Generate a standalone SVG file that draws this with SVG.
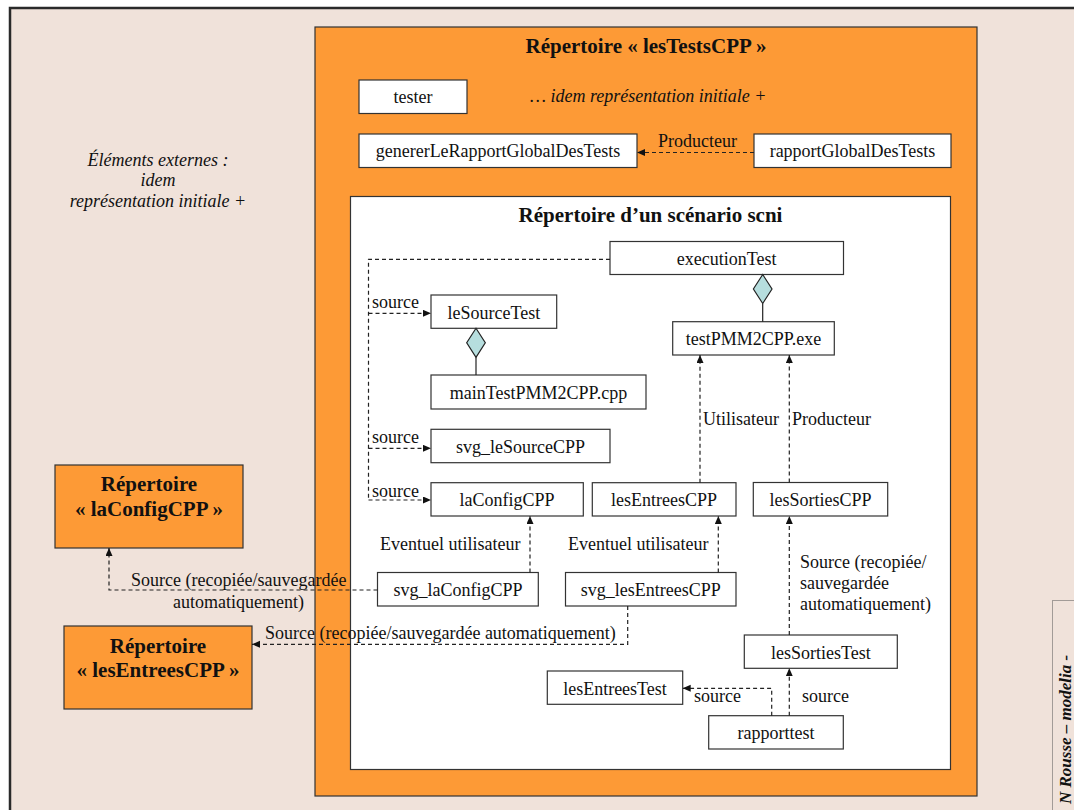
<svg xmlns="http://www.w3.org/2000/svg" width="1074" height="810" viewBox="0 0 1074 810">
<defs>
<marker id="arr" markerUnits="userSpaceOnUse" markerWidth="9" markerHeight="8" refX="8" refY="3.5" orient="auto">
<path d="M0,0 L8,3.5 L0,7 z" fill="#111"/>
</marker>
<style>
.box{fill:#fff;stroke:#333;stroke-width:1.2}
.obox{fill:#fd9a36;stroke:#333;stroke-width:1.2}
.t{font-family:"Liberation Serif","Times New Roman",serif;font-size:18px;fill:#111;text-anchor:middle}
.l{font-family:"Liberation Serif","Times New Roman",serif;font-size:18px;fill:#111}
.it{font-family:"Liberation Serif","Times New Roman",serif;font-size:18px;font-style:italic;fill:#111}
.b{font-family:"Liberation Serif","Times New Roman",serif;font-size:21px;font-weight:bold;fill:#111;text-anchor:middle}
.d{fill:none;stroke:#222;stroke-width:1.2;stroke-dasharray:4 3}
.dm{marker-end:url(#arr)}
.dia{fill:#b6dede;stroke:#222;stroke-width:1.2}
.sl{fill:none;stroke:#222;stroke-width:1.2}
</style>
</defs>
<rect x="0" y="0" width="1074" height="810" fill="#ffffff"/>
<rect x="10" y="8" width="1100" height="850" fill="#f0e2da" stroke="#2a2a2a" stroke-width="2.5"/>
<g id="rotated-credit">
<rect x="1052.5" y="600.5" width="60" height="260" fill="none" stroke="#555" stroke-width="1" stroke-dasharray="1 1"/>
<text transform="translate(1071,804) rotate(-90)" font-family="'Liberation Serif','Times New Roman',serif" font-size="17" font-weight="bold" font-style="italic" fill="#111">N Rousse – modelia -</text>
</g>
<g id="externes-note">
<text class="it" x="158" y="166" text-anchor="middle">Éléments externes :</text>
<text class="it" x="158" y="186" text-anchor="middle">idem</text>
<text class="it" x="158" y="207" text-anchor="middle">représentation initiale +</text>
</g>
<g id="rep-lesTestsCPP">
<rect class="obox" x="315" y="27" width="662" height="769"/>
<text class="b" x="646" y="53">Répertoire « lesTestsCPP »</text>
<text class="it" x="530" y="102">… idem représentation initiale +</text>
</g>
<g id="rep-scenario">
<rect class="box" x="350.5" y="196.5" width="600" height="573"/>
<text class="b" x="650.5" y="222">Répertoire d’un scénario scni</text>
</g>
<g id="rep-laConfigCPP">
<rect class="obox" x="55" y="465" width="188" height="83"/>
<text class="b" x="149" y="491">Répertoire</text>
<text class="b" x="149" y="516">« laConfigCPP »</text>
</g>
<g id="rep-lesEntreesCPP">
<rect class="obox" x="64" y="626" width="188" height="83"/>
<text class="b" x="158" y="653">Répertoire</text>
<text class="b" x="158" y="677">« lesEntreesCPP »</text>
</g>
<g id="tester">
<rect class="box" x="359" y="80" width="108" height="33.5"/>
<text class="t" x="413" y="103">tester</text>
</g>
<g id="genererLeRapportGlobalDesTests">
<rect class="box" x="359" y="134" width="278" height="33.5"/>
<text class="t" x="498" y="157">genererLeRapportGlobalDesTests</text>
</g>
<g id="rapportGlobalDesTests">
<rect class="box" x="754" y="134" width="197" height="33.5"/>
<text class="t" x="852.5" y="157">rapportGlobalDesTests</text>
</g>
<g id="executionTest">
<rect class="box" x="610" y="241.5" width="233.5" height="33"/>
<text class="t" x="726.7" y="265">executionTest</text>
</g>
<g id="leSourceTest">
<rect class="box" x="431" y="295" width="125.7" height="33.3"/>
<text class="t" x="493.8" y="318.5">leSourceTest</text>
</g>
<g id="mainTestPMM2CPP">
<rect class="box" x="431" y="375" width="215" height="34"/>
<text class="t" x="538.5" y="398.5">mainTestPMM2CPP.cpp</text>
</g>
<g id="svg_leSourceCPP">
<rect class="box" x="431" y="429.3" width="179" height="33.4"/>
<text class="t" x="520.5" y="452.5">svg_leSourceCPP</text>
</g>
<g id="laConfigCPP">
<rect class="box" x="431" y="482.7" width="152.3" height="33.3"/>
<text class="t" x="507" y="506">laConfigCPP</text>
</g>
<g id="lesEntreesCPP">
<rect class="box" x="592.3" y="482.7" width="143.7" height="33.3"/>
<text class="t" x="664" y="506">lesEntreesCPP</text>
</g>
<g id="lesSortiesCPP">
<rect class="box" x="753.3" y="482.5" width="134.4" height="33.5"/>
<text class="t" x="820.5" y="506">lesSortiesCPP</text>
</g>
<g id="testPMM2CPP-exe">
<rect class="box" x="672.7" y="321.7" width="161.6" height="33.3"/>
<text class="t" x="753.5" y="345">testPMM2CPP.exe</text>
</g>
<g id="svg_laConfigCPP">
<rect class="box" x="377.5" y="572.5" width="160.8" height="33.5"/>
<text class="t" x="458" y="596">svg_laConfigCPP</text>
</g>
<g id="svg_lesEntreesCPP">
<rect class="box" x="565.5" y="572.5" width="170.5" height="33.5"/>
<text class="t" x="650.8" y="596">svg_lesEntreesCPP</text>
</g>
<g id="lesSortiesTest">
<rect class="box" x="744.3" y="635" width="153" height="33.3"/>
<text class="t" x="820.8" y="658.5">lesSortiesTest</text>
</g>
<g id="lesEntreesTest">
<rect class="box" x="547.3" y="671" width="135.4" height="33.3"/>
<text class="t" x="615" y="694.5">lesEntreesTest</text>
</g>
<g id="rapporttest">
<rect class="box" x="708.7" y="715.7" width="134.6" height="33.3"/>
<text class="t" x="776" y="739">rapporttest</text>
</g>
<g id="connectors">
<path class="d dm" d="M754,152.5 H637"/>
<text class="l" x="658" y="147">Producteur</text>
<path class="d" d="M610,259.3 H368.5 V500"/>
<path class="d dm" d="M368.5,313.3 H431"/>
<path class="d dm" d="M368.5,448.3 H431"/>
<path class="d dm" d="M368.5,500 H431"/>
<text class="l" x="372" y="308">source</text>
<text class="l" x="372" y="443">source</text>
<text class="l" x="372" y="497">source</text>
<path class="dia" d="M476,328.3 L485.3,342.8 L476,357.3 L466.7,342.8 z"/>
<path class="sl" d="M476,357.3 V375"/>
<path class="dia" d="M762.7,274.5 L772,289 L762.7,303.5 L753.4,289 z"/>
<path class="sl" d="M762.7,303.5 V321.7"/>
<path class="d dm" d="M700,482.7 V355"/>
<text class="l" x="703" y="425">Utilisateur</text>
<path class="d dm" d="M789.3,482.5 V355"/>
<text class="l" x="792" y="425">Producteur</text>
<path class="d dm" d="M530,572.5 V516"/>
<text class="l" x="380" y="550">Eventuel utilisateur</text>
<path class="d dm" d="M718.3,572.5 V516"/>
<text class="l" x="568" y="550">Eventuel utilisateur</text>
<path class="d dm" d="M377.5,590 H109 V548"/>
<text class="l" x="131" y="586">Source (recopiée/sauvegardée</text>
<text class="l" x="173" y="608">automatiquement)</text>
<path class="d dm" d="M627.7,606 V644.3 H252"/>
<text class="l" x="265" y="639">Source (recopiée/sauvegardée automatiquement)</text>
<path class="d dm" d="M789.3,635 V516"/>
<text class="l" x="800" y="568">Source (recopiée/</text>
<text class="l" x="800" y="589">sauvegardée</text>
<text class="l" x="800" y="610">automatiquement)</text>
<path class="d dm" d="M789.3,715.7 V668.3"/>
<text class="l" x="802" y="702">source</text>
<path class="d dm" d="M771.7,715.7 V688.3 H682.7"/>
<text class="l" x="694" y="702">source</text>
</g>
</svg>
